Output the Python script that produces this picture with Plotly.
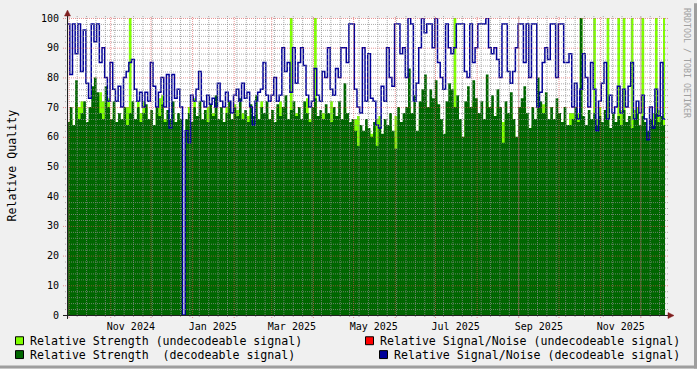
import plotly.graph_objects as go
import pandas as pd

# ---------------- data (2-day samples starting 2024-09-29 12:00) ----------------
START = "2024-09-29 12:00"
X_RANGE = ["2024-09-29 10:00", "2025-12-19 00:00"]

strength_undecodeable = [
    63, 66, 62, 72, 70, 72, 68, 64, 66, 70,
    72, 74, 75, 72, 68, 73, 64, 70, 62, 66,
    64, 68, 70, 100, 66, 64, 72, 68, 72, 70,
    64, 66, 62, 68, 73, 74, 66, 64, 62, 68,
    64, 66, 64, 0, 62, 70, 64, 73, 65, 68,
    64, 66, 70, 64, 68, 70, 64, 66, 62, 70,
    68, 64, 71, 69, 65, 68, 64, 67, 69, 66,
    68, 64, 72, 66, 68, 64, 67, 63, 70, 72,
    66, 68, 64, 100, 66, 68, 64, 66, 68, 73,
    66, 68, 100, 64, 66, 68, 64, 66, 72, 66,
    64, 68, 66, 70, 66, 62, 64, 66, 67, 62,
    60, 64, 62, 61, 63, 66, 67, 60, 63, 62,
    64, 60, 67, 66, 62, 64, 66, 70, 64, 68,
    60, 66, 70, 72, 66, 70, 68, 72, 66, 62,
    60, 66, 70, 72, 100, 68, 62, 58, 66, 70,
    64, 72, 68, 64, 66, 62, 72, 64, 68, 62,
    70, 66, 65, 66, 62, 68, 64, 58, 64, 66,
    70, 64, 60, 64, 62, 72, 66, 71, 68, 64,
    66, 62, 68, 64, 62, 66, 60, 68, 68, 66,
    68, 100, 64, 62, 66, 66, 100, 66, 70, 62,
    66, 100, 60, 64, 62, 100, 69, 100, 62, 64,
    100, 69, 70, 62, 100, 62, 60, 64, 68, 100,
    69, 64, 100,
]

strength_decodeable = [
    65, 70, 64, 79, 66, 68, 72, 65, 70, 77,
    80, 75, 68, 66, 77, 70, 66, 72, 65, 68,
    66, 70, 64, 68, 72, 66, 70, 65, 68, 71,
    66, 69, 64, 70, 67, 71, 65, 69, 66, 72,
    65, 68, 66, 0, 66, 68, 65, 70, 67, 72,
    66, 69, 65, 71, 67, 74, 66, 70, 65, 68,
    72, 66, 70, 67, 73, 66, 69, 65, 71, 67,
    74, 66, 70, 68, 72, 66, 69, 65, 71, 67,
    70, 74, 66, 69, 72, 67, 70, 66, 72, 68,
    65, 70, 73, 67, 69, 66, 71, 68, 65, 70,
    67, 72, 66, 78, 68, 65, 66, 62, 57, 64,
    62, 66, 63, 60, 65, 57, 63, 61, 66, 64,
    68, 62, 56, 70, 65, 68, 70, 83, 68, 74,
    62, 72, 76, 81, 70, 76, 73, 79, 71, 66,
    61, 72, 78, 76, 70, 74, 66, 60, 72, 77,
    70, 79, 73, 68, 72, 66, 81, 70, 74, 67,
    76, 70, 58, 72, 68, 75, 66, 60, 70, 73,
    77, 68, 63, 70, 66, 80, 72, 68, 75, 66,
    70, 66, 73, 68, 65, 70, 64, 64, 66, 70,
    65, 100, 67, 64, 69, 66, 68, 64, 67, 65,
    69, 66, 63, 68, 65, 67, 64, 69, 65, 67,
    63, 66, 68, 64, 67, 65, 62, 66, 64, 68,
    65, 67, 64,
]

snr_decodeable = [
    98, 81, 98, 88, 98, 82, 96, 78, 73, 98,
    92, 98, 85, 90, 80, 72, 85, 76, 72, 77,
    70, 80, 82, 85, 86, 76, 72, 75, 70, 75,
    72, 85, 77, 70, 75, 80, 70, 81, 63, 81,
    73, 76, 70, 0, 62, 58, 74, 72, 76, 82,
    72, 70, 74, 71, 73, 70, 78, 72, 70, 75,
    72, 68, 74, 76, 72, 78, 73, 75, 70, 64,
    72, 75, 76, 85, 74, 72, 74, 80, 72, 74,
    90, 82, 85, 75, 90, 78, 85, 90, 84, 74,
    70, 72, 83, 74, 72, 82, 80, 90, 76, 74,
    83, 80, 90, 90, 85, 98, 98, 76, 70, 68,
    90, 72, 88, 73, 72, 64, 63, 77, 72, 90,
    80, 77, 98, 98, 88, 90, 80, 100, 98, 72,
    78, 90, 100, 95, 98, 98, 90, 100, 85, 80,
    76, 98, 90, 88, 90, 98, 98, 98, 82, 80,
    98, 85, 90, 98, 98, 98, 100, 90, 88, 90,
    86, 80, 98, 98, 82, 78, 82, 90, 98, 98,
    85, 98, 80, 98, 98, 70, 75, 85, 90, 86,
    98, 98, 80, 98, 98, 85, 85, 88, 70, 78,
    66, 76, 88, 80, 70, 85, 76, 62, 72, 78,
    85, 66, 74, 68, 70, 77, 68, 76, 70, 77,
    85, 66, 72, 68, 74, 66, 59, 70, 63, 76,
    67, 85, 66,
]

month_label_dates = ["2024-11-16", "2025-01-16", "2025-03-16", "2025-05-16",
                     "2025-07-16", "2025-09-16", "2025-11-16"]
month_labels = ["Nov 2024", "Jan 2025", "Mar 2025", "May 2025",
                "Jul 2025", "Sep 2025", "Nov 2025"]
y_tick_values = [0, 10, 20, 30, 40, 50, 60, 70, 80, 90, 100]

legend_labels = [
    "Relative Strength (undecodeable signal)",
    "Relative Strength\u00a0\u00a0(decodeable signal)",
    "Relative Signal/Noise (undecodeable signal)",
    "Relative Signal/Noise (decodeable signal)",
]

# ---------------- style ----------------
C_LIGHT = "#80FF00"
C_DARK = "#006600"
C_RED = "#FF0000"
C_BLUE = "#000099"
C_BACK = "#F0F0F0"
C_GRID = "rgba(143,143,143,0.75)"
C_MGRID = "rgba(222,79,79,0.60)"
C_AXIS = "#1F1F1F"
C_ARROW = "#801F1F"
FONT = "DejaVu Sans Mono"

W, H = 697, 369
L, R, T, B = 67, 32, 15, 54
PW, PH = W - L - R, H - T - B


def px(xp):
    return (xp - L) / PW


def py(yp):
    return (T + PH - yp) / PH


def step_xy(values):
    t = pd.date_range(START, periods=len(values) + 1, freq="2D")
    return [d.strftime("%Y-%m-%d %H:%M") for d in t], list(values) + [values[-1]]


fig = go.Figure()
for vals, col in [(strength_undecodeable, C_LIGHT), (strength_decodeable, C_DARK)]:
    x, y = step_xy(vals)
    fig.add_trace(go.Scatter(x=x, y=y, mode="lines", line=dict(width=0, shape="hv", color=col),
                             fill="tozeroy", fillcolor=col, hoverinfo="skip"))
x, y = step_xy(snr_decodeable)
fig.add_trace(go.Scatter(x=x, y=y, mode="lines", line=dict(width=1.5, shape="hv", color=C_BLUE),
                         hoverinfo="skip"))

shapes = []
# horizontal grid
for v in range(0, 101, 2):
    major = v % 10 == 0
    ext = 4 if major else 2
    yy = (3 * v - 0.5) / PH
    shapes.append(dict(type="line", xref="paper", yref="paper", x0=-ext / PW, x1=1 + 3 / PW,
                       y0=yy, y1=yy, layer="above",
                       line=dict(color=C_MGRID if major else C_GRID, width=1, dash="1px,1px")))
# vertical grid
for d in pd.date_range("2024-09-30", "2025-12-15", freq="W-MON"):
    shapes.append(dict(type="line", xref="x", yref="paper", x0=d.strftime("%Y-%m-%d"),
                       x1=d.strftime("%Y-%m-%d"), y0=-2 / PH, y1=1 + 2 / PH, layer="above",
                       line=dict(color=C_GRID, width=1, dash="1px,1px")))
for d in pd.date_range("2024-10-01", "2025-12-01", freq="MS"):
    shapes.append(dict(type="line", xref="x", yref="paper", x0=d.strftime("%Y-%m-%d"),
                       x1=d.strftime("%Y-%m-%d"), y0=-3 / PH, y1=1 + 2 / PH, layer="above",
                       line=dict(color=C_MGRID, width=1, dash="1px,1px")))
# axes
shapes.append(dict(type="line", xref="paper", yref="paper", x0=px(63), x1=px(669),
                   y0=py(315.5), y1=py(315.5), layer="above", line=dict(color=C_AXIS, width=1)))
shapes.append(dict(type="line", xref="paper", yref="paper", x0=px(67.5), x1=px(67.5),
                   y0=py(319), y1=py(11), layer="above", line=dict(color=C_AXIS, width=1)))


def tri(points):
    p = "M " + " L ".join(f"{px(a)},{py(b)}" for a, b in points) + " Z"
    return dict(type="path", xref="paper", yref="paper", path=p, fillcolor=C_ARROW,
                line=dict(color=C_ARROW, width=0.5), layer="above")


shapes.append(tri([(67.5, 7), (64.5, 13), (70.5, 13)]))
shapes.append(tri([(674, 315.5), (668, 312.5), (668, 318.5)]))

# border shading
shapes.append(dict(type="rect", xref="paper", yref="paper", x0=px(694), x1=px(697),
                   y0=py(369), y1=py(0), fillcolor="#9E9E9E", line=dict(width=0)))
shapes.append(dict(type="rect", xref="paper", yref="paper", x0=px(0), x1=px(697),
                   y0=py(369), y1=py(366), fillcolor="#9E9E9E", line=dict(width=0)))

# legend boxes
legend_items = [
    (15, 341, C_LIGHT, 28, legend_labels[0]),
    (15, 355, C_DARK, 28, legend_labels[1]),
    (365, 341, C_RED, 378, legend_labels[2]),
    (379, 355, C_BLUE, 392, legend_labels[3]),
]
annotations = []
for bx, cy, col, tx, txt in legend_items:
    shapes.append(dict(type="rect", xref="paper", yref="paper", x0=px(bx + 0.5), x1=px(bx + 8.5),
                       y0=py(cy + 4), y1=py(cy - 4), fillcolor=col,
                       line=dict(color="#000000", width=1)))
    annotations.append(dict(text=txt, xref="paper", yref="paper", x=px(tx), y=py(cy),
                            xanchor="left", yanchor="middle", showarrow=False,
                            font=dict(family=FONT, size=11.6, color="#000000")))

annotations.append(dict(text="Relative Quality", xref="paper", yref="paper", x=px(12), y=py(164),
                        xanchor="center", yanchor="middle", textangle=-90, showarrow=False,
                        font=dict(family=FONT, size=11.6, color="#000000")))
annotations.append(dict(text="RRDTOOL / TOBI OETIKER", xref="paper", yref="paper", x=px(687.5),
                        y=py(60), xanchor="center", yanchor="middle", textangle=90,
                        showarrow=False, font=dict(family=FONT, size=8.3, color="#A0A0A0")))

fig.update_layout(
    width=W, height=H, margin=dict(l=L, r=R, t=T, b=B),
    paper_bgcolor=C_BACK, plot_bgcolor="#FFFFFF", showlegend=False, hovermode=False,
    font=dict(family=FONT, size=10, color="#000000"),
    shapes=shapes, annotations=annotations,
)
fig.update_xaxes(type="date", range=X_RANGE, showgrid=False, zeroline=False, showline=False,
                 tickmode="array", tickvals=month_label_dates, ticktext=month_labels,
                 ticks="outside", ticklen=2, tickcolor="rgba(0,0,0,0)",
                 tickfont=dict(family=FONT, size=10, color="#000000"), fixedrange=True)
fig.update_yaxes(range=[0, 100], showgrid=False, zeroline=False, showline=False,
                 tickmode="array", tickvals=y_tick_values, ticks="outside", ticklen=5,
                 tickcolor="rgba(0,0,0,0)",
                 tickfont=dict(family=FONT, size=10, color="#000000"), fixedrange=True)

fig.write_html("out.html")
